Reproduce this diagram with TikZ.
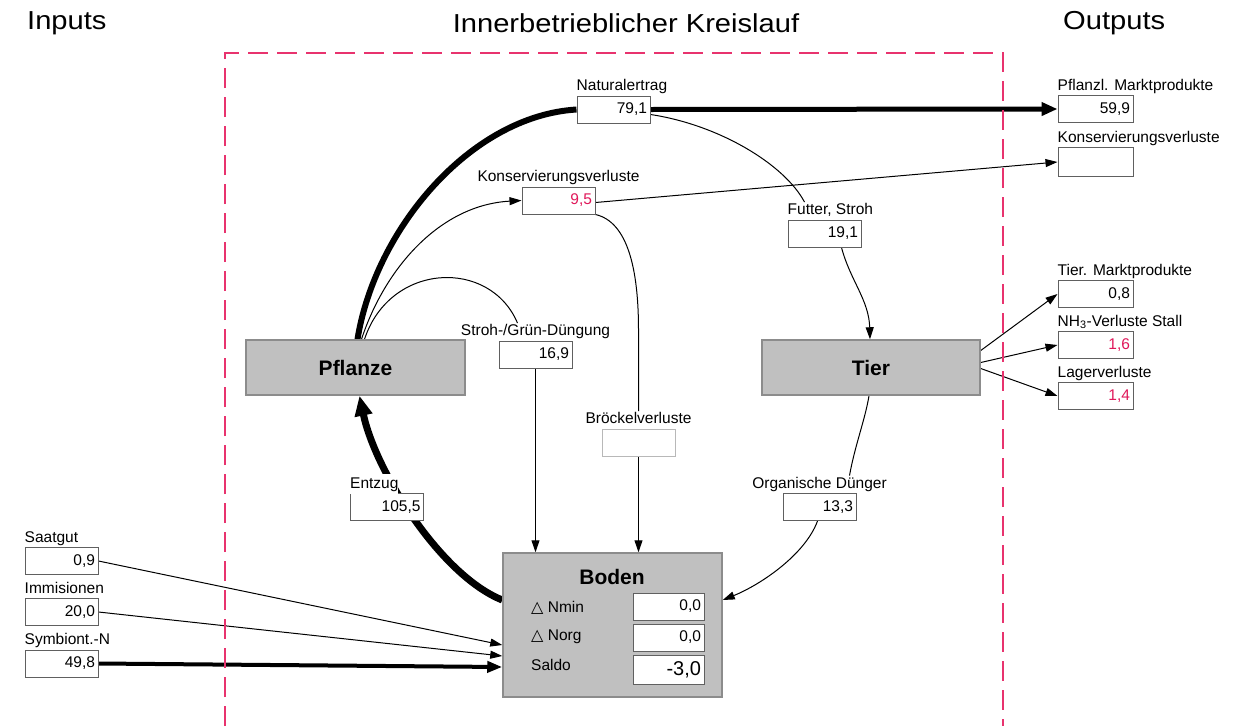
\documentclass[tikz,border=0pt]{standalone}
\usepackage{fontspec}
\setmainfont{Liberation Sans}
\newfontfamily\titlefont[FakeStretch=1.12]{Liberation Sans}
\newfontfamily\symfont{DejaVu Sans}
\usetikzlibrary{arrows.meta,backgrounds}
\pgfdeclarelayer{bottom}
\pgfsetlayers{bottom,background,main}
\definecolor{framered}{HTML}{E8336E}
\definecolor{valred}{HTML}{E0185A}
\definecolor{boxgray}{HTML}{C0C0C0}
\definecolor{boxedge}{HTML}{8C8C8C}
\definecolor{valedge}{HTML}{606060}
\definecolor{lightedge}{HTML}{B8B8B8}
\newcommand{\lblfont}{\fontsize{15.5}{18}\selectfont}
\newcommand{\ttlfont}{\titlefont\fontsize{26}{30}\selectfont}
\newcommand{\bigfont}{\fontsize{21}{24}\selectfont\bfseries}
\newcommand{\deltri}{{\symfont\fontsize{16}{18}\selectfont △}}
\begin{document}
\begin{tikzpicture}[x=1pt,y=-1pt,
  valbox/.style={draw=valedge,line width=1pt,fill=white,minimum height=27pt,
    inner xsep=3pt,inner ysep=0pt,text width=67pt,align=right,font=\lblfont},
  redval/.style={valbox,text=valred},
  lbl/.style={font=\lblfont,inner xsep=0pt,inner ysep=1pt},
  lblL/.style={lbl,anchor=base west},
  lblC/.style={lbl,anchor=base},
  mainbox/.style={draw=boxedge,line width=1.5pt,fill=boxgray,font=\bigfont},
  title/.style={font=\ttlfont,inner sep=0pt},
  flow/.style={line width=1pt,draw=black},
  arr/.style={-{Triangle[length=12pt,width=8pt]}},
  heavy/.style={line width=6pt,draw=black},
  medium/.style={line width=4pt,draw=black},
  dashframe/.style={draw=framered,line width=1.5pt,dash pattern=on 20pt off 9pt}
]
\useasboundingbox (0,0) rectangle (1239,726);
\begin{pgfonlayer}{bottom}
\fill[white] (0,0) rectangle (1239,726);
\end{pgfonlayer}

% titles
\node[title,anchor=west] (tin) at (27,23) {Inputs};
\node[title] (tkr) at (626,23) {Innerbetrieblicher Kreislauf};
\node[title,anchor=west] (tout) at (1063,23) {Outputs};

% frame
\draw[dashframe] (225,726) -- (225,53) -- (1003,53) -- (1003,726);

% main boxes
\node[mainbox,minimum width=219pt,minimum height=55pt] (pfl) at (355.5,367.5) {Pflanze};
\node[mainbox,minimum width=218pt,minimum height=55pt] (tier) at (871,367.5) {Tier};
\node[mainbox,minimum width=219pt,minimum height=144pt] (bod) at (612.5,625) {};
\node[font=\bigfont,inner sep=0pt] (bodt) at (612,577) {Boden};
\node[font=\lblfont,anchor=west,inner sep=0pt] (dnmin) at (531,608) {\deltri\ Nmin};
\node[font=\lblfont,anchor=west,inner sep=0pt] (dnorg) at (531,637) {\deltri\ Norg};
\node[font=\lblfont,anchor=west,inner sep=0pt] (saldo) at (531,665) {Saldo};
\node[valbox,text width=65pt] (vnmin) at (668.5,606.5) {0,0};
\node[valbox,text width=65pt] (vnorg) at (668.5,637.5) {0,0};
\node[valbox,text width=65pt,minimum height=29pt,font=\fontsize{20}{22}\selectfont] (vsal) at (668.5,669.5) {-3,0};

% value boxes inside
\node[valbox] (nat) at (613.5,109.5) {79,1};
\node[lblL] (natl) at ([yshift=5pt]nat.north west) {Naturalertrag};
\node[redval] (kv) at (558.5,200.5) {9,5};
\node[lblC] (kvl) at ([yshift=5pt]kv.north) {Konservierungsverluste};
\node[valbox] (fut) at (824.5,233.5) {19,1};
\node[lblL] (futl) at ([yshift=5pt]fut.north west) {Futter, Stroh};
\node[valbox] (sgd) at (535.5,354.5) {16,9};
\node[lblC] (sgdl) at ([yshift=5pt]sgd.north) {Stroh-/Grün-Düngung};
\node[valbox,draw=lightedge] (brv) at (638.5,442.5) {};
\node[lblC] (brvl) at ([yshift=5pt]brv.north) {Bröckelverluste};
\node[valbox] (ent) at (387,507) {105,5};
\node[lblL,fill=white,inner ysep=3pt] (entl) at ([yshift=5pt]ent.north west) {Entzug};
\node[valbox] (org) at (819.5,507) {13,3};
\node[lblC] (orgl) at ([yshift=5pt]org.north) {Organische Dünger};

% outputs
\node[valbox,minimum width=75pt,text width=69pt] (pm) at (1095.5,109) {59,9};
\node[lblL] (pml) at ([yshift=5pt]pm.north west) {Pflanzl. Marktprodukte};
\node[valbox,minimum width=75pt,text width=69pt,minimum height=29pt] (kvr) at (1095.5,162) {};
\node[lblL] (kvrl) at ([yshift=5pt]kvr.north west) {Konservierungsverluste};
\node[valbox,minimum width=75pt,text width=69pt] (tm) at (1095.5,294) {0,8};
\node[lblL] (tml) at ([yshift=5pt]tm.north west) {Tier. Marktprodukte};
\node[redval,minimum width=75pt,text width=69pt] (nh3) at (1095.5,345) {1,6};
\node[lblL] (nh3l) at ([yshift=5pt]nh3.north west) {NH\textsubscript{3}-Verluste Stall};
\node[redval,minimum width=75pt,text width=69pt] (lag) at (1095.5,396) {1,4};
\node[lblL] (lagl) at ([yshift=5pt]lag.north west) {Lagerverluste};

% inputs
\node[valbox] (saat) at (61.5,561) {0,9};
\node[lblL] (saatl) at ([yshift=5pt]saat.north west) {Saatgut};
\node[valbox] (imm) at (61.5,612) {20,0};
\node[lblL] (imml) at ([yshift=5pt]imm.north west) {Immisionen};
\node[valbox] (sym) at (61.5,663.5) {49,8};
\node[lblL] (syml) at ([yshift=5pt]sym.north west) {Symbiont.-N};

\begin{pgfonlayer}{background}
% Pflanze -> Naturalertrag
\draw[heavy] ([xshift=2pt]pfl.north) .. controls (375,230) and (470,116) .. (nat.west);
% Pflanze -> Konservierungsverluste
\draw[flow,arr] ([xshift=6pt]pfl.north) .. controls (385,268) and (440,205) .. (kv.west);
% Pflanze -> Stroh-/Gruen-Duengung
\draw[flow] ([xshift=9pt]pfl.north) .. controls (390,262) and (490,258) .. ([xshift=-18pt]sgdl.north);
% Naturalertrag -> Pflanzl. Marktprodukte
\draw[line width=5pt,-{Triangle[length=16pt,width=13pt]}] (nat.east) -- (pm.west);
% Naturalertrag -> Futter
\draw[flow] ([yshift=-5pt]nat.east) .. controls (720,125) and (785,165) .. ([xshift=17pt]futl.north west);
% Futter -> Tier
\draw[flow,arr] ([xshift=17pt]fut.south) .. controls (850,280) and (869,300) .. ([xshift=-1pt]tier.north);
% Konserv -> Konserv output
\draw[flow,arr] ([yshift=-2pt]kv.east) -- (kvr.west);
% Konserv -> Broeckelverluste
\draw[flow] (kv.south east) .. controls (628,222) and (638.5,270) .. (638.5,330) -- (brvl.north);
\draw[flow,arr] (brv.south) -- (brv.south |- bod.north);
% Stroh-/Gruen -> Boden
\draw[flow,arr] (sgd.south) -- (sgd.south |- bod.north);
% Tier -> Organische Duenger
\draw[flow] ([xshift=-2pt]tier.south) .. controls (865,420) and (855,445) .. ([xshift=30pt]orgl.north);
% Organische Duenger -> Boden
\draw[flow,arr] ([xshift=-2pt]org.south) .. controls (805,555) and (760,585) .. ([yshift=25pt]bod.east);
% Tier outputs
\draw[flow,arr] ([yshift=17pt]tier.east) -- (tm.west);
\draw[flow,arr] ([yshift=5pt]tier.east) -- (nh3.west);
\draw[flow,arr] ([yshift=-1pt]tier.east) -- (lag.west);
% Entzug: Boden -> Pflanze
\draw[line width=7pt,-{Triangle[length=20pt,width=17pt]}] ([yshift=25pt]bod.west) .. controls (440,575) and (375,470) .. ([xshift=4pt]pfl.south);
% Inputs -> Boden
\draw[flow,arr] (saat.east) -- ([yshift=-20pt]bod.west);
\draw[flow,arr] (imm.east) -- ([yshift=-31pt]bod.west);
\draw[medium,-{Triangle[length=15pt,width=11pt]}] (sym.east) -- ([yshift=-42pt]bod.west);
\end{pgfonlayer}
\end{tikzpicture}
\end{document}
